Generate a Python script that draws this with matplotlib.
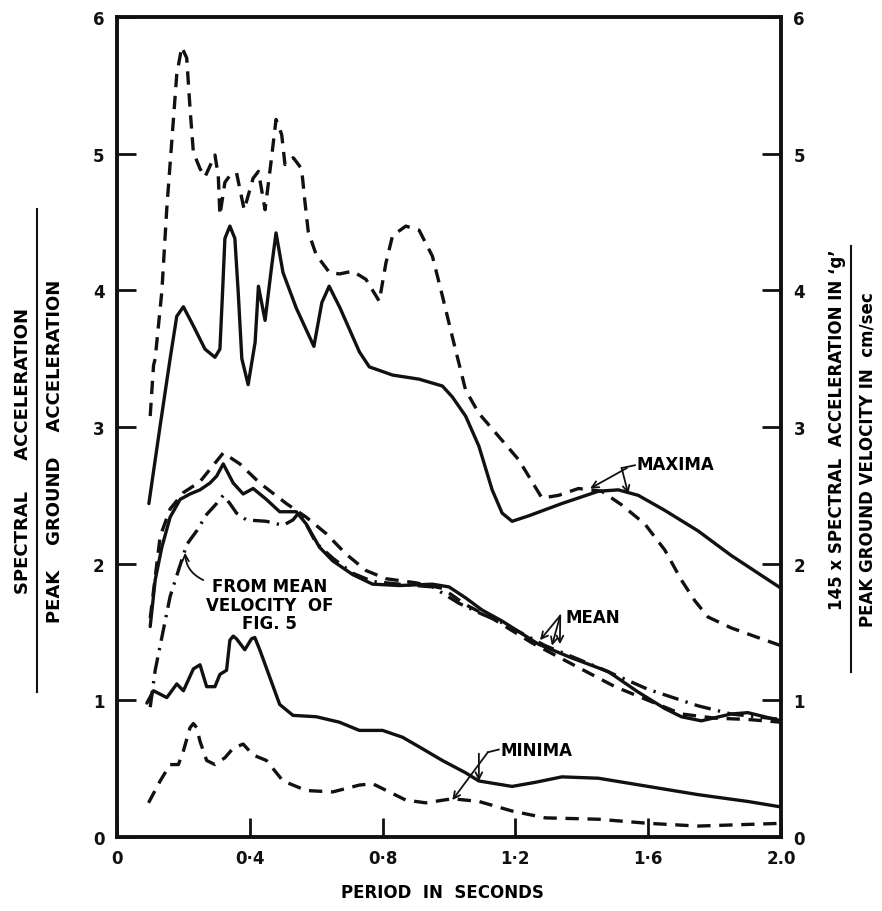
import matplotlib
matplotlib.use("Agg")
import matplotlib.pyplot as plt
from matplotlib.lines import Line2D

plt.rcParams['font.family'] = ['DejaVu Sans']
plt.rcParams['font.weight'] = 'bold'

# maxima, dashed
max_d_t = [.10, .11, .115, .135, .15, .165, .18, .195, .21, .22, .23, .25, .265, .295, .305, .31,
           .325, .34, .36, .383, .41, .426, .446, .463, .479, .496, .506, .531, .556, .566, .576,
           .60, .64, .67, .71, .75, .79, .81, .83, .87, .91, .95, .98, 1.01, 1.05, 1.09, 1.15, 1.21,
           1.25, 1.28, 1.33, 1.39, 1.46, 1.52, 1.59, 1.65, 1.70, 1.74, 1.78, 1.85, 1.93, 2.0]
max_d_v = [3.08, 3.45, 3.5, 3.99, 4.60, 5.09, 5.58, 5.78, 5.70, 5.33, 5.01, 4.89, 4.83, 4.99, 4.84,
           4.55, 4.79, 4.84, 4.86, 4.59, 4.82, 4.87, 4.59, 4.92, 5.25, 5.14, 4.92, 4.97, 4.89, 4.65,
           4.43, 4.26, 4.13, 4.12, 4.14, 4.08, 3.92, 4.2, 4.40, 4.47, 4.44, 4.25, 3.96, 3.66, 3.27,
           3.10, 2.93, 2.76, 2.60, 2.48, 2.50, 2.55, 2.53, 2.43, 2.29, 2.10, 1.88, 1.73, 1.61, 1.53,
           1.46, 1.40]

# maxima, solid
max_s_t = [.096, .13, .16, .18, .20, .23, .265, .295, .31, .318, .325, .34, .355, .365, .376, .395,
           .416, .426, .446, .466, .479, .50, .54, .593, .617, .639, .672, .73, .76, .83, .91, .98,
           1.01, 1.05, 1.09, 1.13, 1.16, 1.19, 1.24, 1.34, 1.45, 1.51, 1.57, 1.65, 1.75, 1.85, 2.0]
max_s_v = [2.44, 3.01, 3.50, 3.81, 3.88, 3.74, 3.57, 3.51, 3.57, 3.99, 4.38, 4.47, 4.38, 3.99, 3.50,
           3.31, 3.62, 4.03, 3.78, 4.18, 4.42, 4.13, 3.87, 3.59, 3.91, 4.03, 3.87, 3.55, 3.44, 3.38,
           3.35, 3.30, 3.22, 3.08, 2.86, 2.54, 2.37, 2.31, 2.35, 2.44, 2.53, 2.54, 2.50, 2.39, 2.24,
           2.06, 1.82]

# mean, solid
mean_s_t = [.10, .115, .135, .16, .19, .22, .25, .28, .30, .32, .335, .35, .38, .41, .45, .49, .54,
            .57, .61, .65, .71, .77, .85, .95, 1.0, 1.05, 1.10, 1.16, 1.27, 1.37, 1.48, 1.57, 1.65,
            1.70, 1.76, 1.85, 1.90, 2.0]
mean_s_v = [1.54, 1.88, 2.12, 2.34, 2.47, 2.51, 2.54, 2.59, 2.64, 2.73, 2.66, 2.59, 2.51, 2.55, 2.47,
            2.38, 2.38, 2.29, 2.12, 2.02, 1.92, 1.85, 1.84, 1.85, 1.83, 1.75, 1.66, 1.58, 1.41, 1.31,
            1.21, 1.06, 0.94, 0.88, 0.85, 0.90, 0.91, 0.85]

# mean, dashed
mean_d_t = [.10, .13, .16, .20, .25, .29, .32, .37, .43, .51, .57, .63, .69, .75, .81, .90, .98, 1.05,
            1.13, 1.25, 1.39, 1.50, 1.60, 1.70, 1.80, 1.90, 2.0]
mean_d_v = [1.6, 2.2, 2.4, 2.52, 2.6, 2.72, 2.81, 2.73, 2.59, 2.44, 2.34, 2.22, 2.07, 1.95, 1.89,
            1.86, 1.82, 1.70, 1.60, 1.42, 1.24, 1.10, 1.0, 0.9, 0.87, 0.86, 0.84]

# mean from velocity of fig. 5, dash-dot
mean_v_t = [.10, .115, .135, .16, .185, .21, .24, .27, .30, .32, .34, .36, .39, .45, .50, .53, .55,
            .60, .65, .71, .77, .85, .95, 1.03, 1.10, 1.15, 1.29, 1.45, 1.60, 1.75, 1.85, 2.0]
mean_v_v = [.95, 1.22, 1.46, 1.76, 1.95, 2.14, 2.24, 2.36, 2.44, 2.50, 2.44, 2.37, 2.32, 2.31, 2.28,
            2.32, 2.38, 2.15, 2.04, 1.93, 1.87, 1.85, 1.83, 1.71, 1.63, 1.58, 1.40, 1.24, 1.08, 0.96,
            0.90, 0.86]

# minima, solid
min_s_t = [.09, .11, .15, .18, .20, .23, .25, .27, .295, .31, .33, .34, .35, .36, .385, .405, .415,
           .43, .46, .49, .53, .60, .67, .73, .80, .86, .91, .98, 1.05, 1.09, 1.19, 1.26, 1.34,
           1.45, 1.60, 1.75, 1.90, 2.0]
min_s_v = [.98, 1.07, 1.02, 1.12, 1.07, 1.23, 1.26, 1.10, 1.10, 1.19, 1.22, 1.44, 1.47, 1.45, 1.37,
           1.45, 1.46, 1.37, 1.17, .97, .89, .88, .84, .78, .78, .73, .66, .56, .47, .41, .37, .40,
           .44, .43, .37, .31, .26, .22]

# minima, dashed
min_d_t = [.095, .13, .16, .185, .20, .22, .23, .24, .25, .27, .295, .325, .35, .38, .41, .45, .50,
           .57, .65, .73, .77, .82, .87, .93, 1.01, 1.09, 1.19, 1.29, 1.45, 1.60, 1.75, 2.0]
min_d_v = [.25, .41, .53, .53, .63, .80, .83, .80, .70, .56, .53, .58, .65, .68, .60, .56, .41, .34,
           .33, .38, .39, .33, .27, .25, .28, .26, .19, .14, .13, .10, .08, .10]

x_ticks = [0, 0.4, 0.8, 1.2, 1.6, 2.0]
x_labels = ['0', '0·4', '0·8', '1·2', '1·6', '2.0']
y_ticks = [0, 1, 2, 3, 4, 5, 6]

W, H = 882, 912
fig = plt.figure(figsize=(W / 100, H / 100), dpi=100)
ax = fig.add_axes([117 / W, 1 - 838 / H, (781 - 117) / W, (838 - 18) / H])

k = '#111111'
lw = 2.4
dash = (0, (4, 2.6))
dashdot = (0, (5, 2.2, 0.7, 2.2))
style = dict(color=k, lw=lw, solid_joinstyle='round', dash_joinstyle='round',
             solid_capstyle='round')

ax.plot(max_d_t, max_d_v, linestyle=dash, **style)
ax.plot(max_s_t, max_s_v, **style)
ax.plot(mean_s_t, mean_s_v, **style)
ax.plot(mean_d_t, mean_d_v, linestyle=dash, **style)
ax.plot(mean_v_t, mean_v_v, linestyle=dashdot, **style)
ax.plot(min_s_t, min_s_v, **style)
ax.plot(min_d_t, min_d_v, linestyle=dash, **style)

ax.set_xlim(0, 2.0)
ax.set_ylim(0, 6)
ax.set_xticks(x_ticks)
ax.set_xticklabels(x_labels)
ax.set_yticks(y_ticks)
ax.tick_params(direction='in', length=14, width=2, labelsize=12, colors=k,
               right=True, labelright=True, top=False)
ax.tick_params(axis='y', pad=9)
ax.tick_params(axis='x', pad=9)
for s in ax.spines.values():
    s.set_linewidth(2.8)
    s.set_color(k)

fs = 12
arr = dict(arrowstyle='->', color=k, lw=1.3, shrinkA=0, shrinkB=0, mutation_scale=12)

ax.text(1.566, 2.73, 'MAXIMA', fontsize=fs, fontweight='bold', va='center', ha='left')
ax.plot([1.52, 1.56], [2.70, 2.72], color=k, lw=1.3)
ax.annotate('', xy=(1.425, 2.55), xytext=(1.536, 2.70), arrowprops=arr)
ax.annotate('', xy=(1.54, 2.51), xytext=(1.52, 2.70), arrowprops=arr)

ax.text(1.35, 1.61, 'MEAN', fontsize=fs, fontweight='bold', va='center', ha='left')
ax.annotate('', xy=(1.274, 1.44), xytext=(1.335, 1.62), arrowprops=arr)
ax.annotate('', xy=(1.31, 1.40), xytext=(1.335, 1.62), arrowprops=arr)
ax.annotate('', xy=(1.334, 1.41), xytext=(1.335, 1.62), arrowprops=arr)

ax.text(1.154, 0.64, 'MINIMA', fontsize=fs, fontweight='bold', va='center', ha='left')
ax.plot([1.117, 1.15], [0.62, 0.64], color=k, lw=1.3)
ax.annotate('', xy=(1.01, 0.27), xytext=(1.117, 0.62), arrowprops=arr)
ax.annotate('', xy=(1.09, 0.41), xytext=(1.09, 0.61), arrowprops=arr)

ax.text(0.46, 1.70, 'FROM MEAN\nVELOCITY  OF\nFIG. 5', fontsize=fs, fontweight='bold',
        va='center', ha='center', linespacing=1.05)
ax.annotate('', xy=(0.205, 2.08), xytext=(0.26, 1.88),
            arrowprops=dict(arr, connectionstyle='arc3,rad=-0.3'))

# left fraction label
fig.text(23 / W, 1 - 451 / H, 'SPECTRAL     ACCELERATION', rotation=90, fontsize=13,
         fontweight='bold', ha='center', va='center')
fig.text(55 / W, 1 - 451 / H, 'PEAK    GROUND    ACCELERATION', rotation=90, fontsize=13,
         fontweight='bold', ha='center', va='center')
fig.add_artist(Line2D([37 / W, 37 / W], [1 - 210 / H, 1 - 693 / H], color=k, lw=1.5))

# right fraction label
fig.text(837 / W, 1 - 430 / H, "145 x SPECTRAL  ACCELERATION IN \u2018g\u2019", rotation=90,
         fontsize=12, fontweight='bold', ha='center', va='center')
fig.text(868 / W, 1 - 460 / H, 'PEAK GROUND VELOCITY IN  cm/sec', rotation=90, fontsize=12,
         fontweight='bold', ha='center', va='center')
fig.add_artist(Line2D([851 / W, 851 / W], [1 - 247 / H, 1 - 673 / H], color=k, lw=1.5))

fig.text(442 / W, 1 - 893 / H, 'PERIOD  IN  SECONDS', fontsize=12, fontweight='bold',
         ha='center', va='center')

fig.savefig('out.png', dpi=100, facecolor='white')
